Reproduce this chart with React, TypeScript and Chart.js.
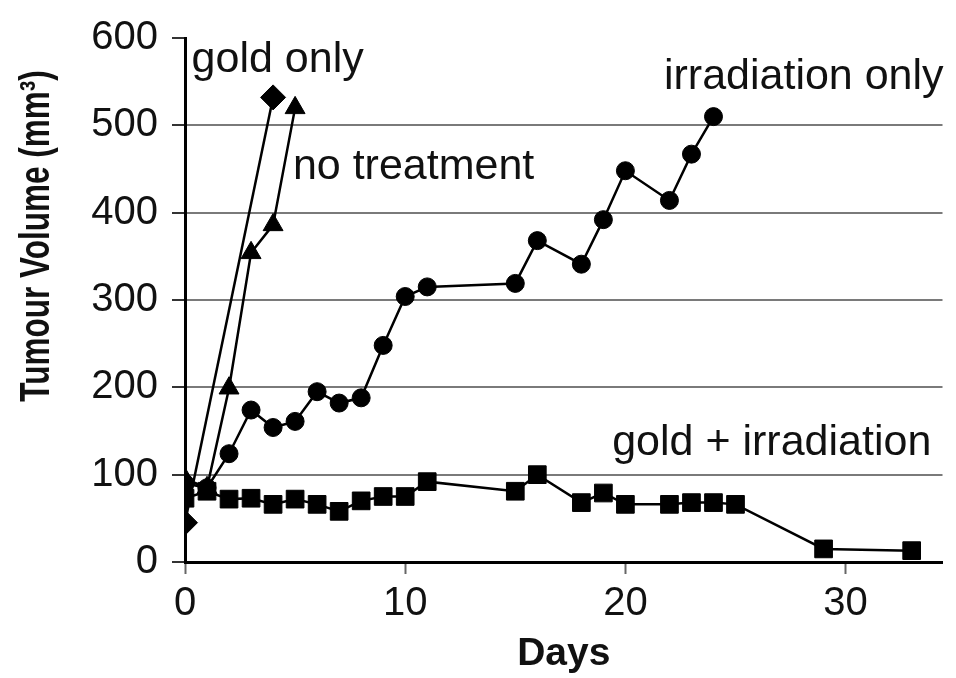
import React, { useEffect, useRef } from 'react';
import { Chart, registerables } from 'chart.js';

Chart.register(...registerables);

// ---- data ----
const noTreatmentDays = [0, 1, 2, 3, 4, 5];
const noTreatmentVolume = [95, 85, 199, 354, 386, 520];

const goldOnlyDays = [0, 4];
const goldOnlyVolume = [45, 532];

const irradiationDays = [0, 1, 2, 3, 4, 5, 6, 7, 8, 9, 10, 11, 15, 16, 18, 19, 20, 22, 23, 24];
const irradiationVolume = [90, 85, 124, 174, 154, 161, 195, 182, 188, 248, 304, 315, 319, 368, 341, 392, 448, 414, 467, 510];

const goldIrrDays = [0, 1, 2, 3, 4, 5, 6, 7, 8, 9, 10, 11, 15, 16, 18, 19, 20, 22, 23, 24, 25, 29, 33];
const goldIrrVolume = [73, 81, 72, 73, 66, 72, 66, 58, 70, 75, 75, 92, 81, 100, 68, 79, 66, 66, 68, 68, 66, 15, 13];

const xTickValues = [0, 10, 20, 30];
const yTickValues = [0, 100, 200, 300, 400, 500, 600];

const labelTexts = ['gold only', 'no treatment', 'irradiation only', 'gold + irradiation'];
const labelDays = [0.3, 4.9, 21.75, 19.4];
const labelVolumes = [561, 438, 542, 123];

const xTitle = 'Days';
const yTitle = 'Tumour Volume (mm\u00B3)';

const FONT = '"Liberation Sans", Arial, Helvetica, sans-serif';

const toPoints = (xs: number[], ys: number[]) => xs.map((d, i) => ({ x: d, y: ys[i] }));

const annotationPlugin = {
  id: 'annotationsText',
  afterDraw(chart: any) {
    const { ctx } = chart;
    const xs = chart.scales.x;
    const ys = chart.scales.y;
    ctx.save();
    ctx.fillStyle = '#111';
    ctx.font = `43px ${FONT}`;
    ctx.textAlign = 'left';
    ctx.textBaseline = 'alphabetic';
    labelTexts.forEach((t, i) => {
      ctx.fillText(t, xs.getPixelForValue(labelDays[i]), ys.getPixelForValue(labelVolumes[i]));
    });
    ctx.restore();

    ctx.save();
    ctx.fillStyle = '#111';
    ctx.font = `bold 31.5px ${FONT}`;
    ctx.translate(37, 236);
    ctx.rotate(-Math.PI / 2);
    ctx.scale(1, 1.35);
    ctx.textAlign = 'center';
    ctx.textBaseline = 'middle';
    ctx.fillText(yTitle, 0, 0);
    ctx.restore();
  },
};

export default function App() {
  const ref = useRef<HTMLCanvasElement | null>(null);

  useEffect(() => {
    if (!ref.current) return;
    const common = {
      borderColor: '#000',
      backgroundColor: '#000',
      pointBackgroundColor: '#000',
      pointBorderColor: '#000',
      borderWidth: 2.5,
      pointBorderWidth: 1,
      showLine: true,
      tension: 0,
    };
    const chart = new Chart(ref.current, {
      type: 'scatter',
      data: {
        datasets: [
          { ...common, label: 'gold + irradiation', data: toPoints(goldIrrDays, goldIrrVolume), pointStyle: 'rect', pointRadius: 12.5 },
          { ...common, label: 'irradiation only', data: toPoints(irradiationDays, irradiationVolume), pointStyle: 'circle', pointRadius: 9 },
          { ...common, label: 'no treatment', data: toPoints(noTreatmentDays, noTreatmentVolume), pointStyle: 'triangle', pointRadius: 11.5 },
          { ...common, label: 'gold only', data: toPoints(goldOnlyDays, goldOnlyVolume), pointStyle: 'rectRot', pointRadius: 12.5 },
        ],
      },
      options: {
        animation: false,
        responsive: true,
        maintainAspectRatio: false,
        layout: { padding: { top: 28, right: 0, left: 0, bottom: 0 } },
        plugins: {
          legend: { display: false },
          tooltip: { enabled: false },
          title: { display: false },
        },
        scales: {
          x: {
            type: 'linear',
            min: 0,
            max: 34.4,
            afterFit: (s: any) => { s.height = 116; },
            afterBuildTicks: (s: any) => { s.ticks = xTickValues.map((v) => ({ value: v })); },
            border: { color: '#000', width: 3 },
            grid: { drawOnChartArea: false, drawTicks: true, tickLength: 12, tickColor: '#666', tickWidth: 2 },
            ticks: { color: '#111', font: { family: FONT, size: 40 }, padding: 6, maxRotation: 0, includeBounds: false },
            title: { display: true, text: xTitle, color: '#111', font: { family: FONT, size: 39, weight: 'bold' }, padding: { top: 0, bottom: 0 } },
          },
          y: {
            type: 'linear',
            min: 0,
            max: 600,
            afterFit: (s: any) => { s.width = 185; },
            afterBuildTicks: (s: any) => { s.ticks = yTickValues.map((v) => ({ value: v })); },
            border: { color: '#000', width: 3 },
            grid: {
              color: (c: any) => (c.tick && (c.tick.value === 0 || c.tick.value === 600) ? 'rgba(0,0,0,0)' : '#7a7a7a'),
              lineWidth: 2,
              drawTicks: true,
              tickLength: 13,
              tickColor: '#333',
              tickWidth: 2,
            },
            ticks: { color: '#111', font: { family: FONT, size: 40 }, padding: 14 },
          },
        },
      },
      plugins: [annotationPlugin],
    } as any);
    return () => chart.destroy();
  }, []);

  return (
    <div style={{ position: 'fixed', left: 0, top: 0, width: 956, height: 678, background: '#fff' }}>
      <canvas ref={ref} />
    </div>
  );
}
